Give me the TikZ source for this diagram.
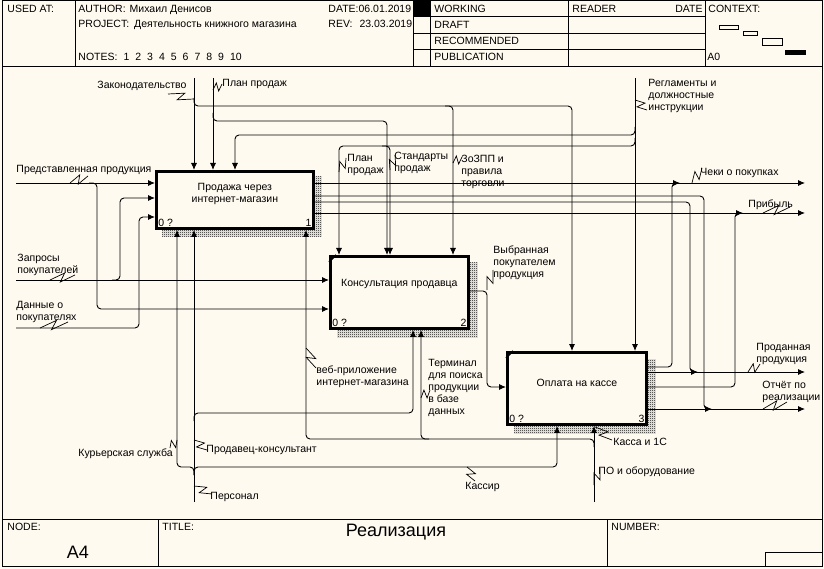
\documentclass[tikz,border=0pt]{standalone}
\usepackage{fontspec}
\setmainfont{Liberation Sans}
\usetikzlibrary{arrows.meta}
\usetikzlibrary{positioning}
\usetikzlibrary{calc}
\usetikzlibrary{patterns}
\usetikzlibrary{backgrounds}
\definecolor{paper}{RGB}{255,250,240}
\newcommand{\labfont}{\fontsize{10.5}{12}\selectfont}
\pgfdeclarepatternformonly{chk}{\pgfpointorigin}{\pgfqpoint{2pt}{2pt}}{\pgfqpoint{2pt}{2pt}}{%
  \pgfpathrectangle{\pgfpointorigin}{\pgfqpoint{1pt}{1pt}}%
  \pgfpathrectangle{\pgfqpoint{1pt}{1pt}}{\pgfqpoint{1pt}{1pt}}%
  \pgfusepath{fill}}
\tikzset{>={Latex[length=7pt,width=6pt]}}
\tikzset{fn/.style={draw, line width=2.8pt, fill=paper, anchor=north west, inner sep=0pt}}
\tikzset{ftext/.style={font=\labfont, align=center, inner sep=0pt}}
\tikzset{lab/.style={font=\labfont, anchor=north west, inner sep=0pt, align=left}}
\tikzset{ar/.style={->, rounded corners=4pt}}
\tikzset{shad/.style={pattern=chk, pattern color=black}}
\tikzset{sq/.style={line width=0.7pt}}
\newcommand{\squig}[2]{\draw[sq] (#1) -- ($(#1)!0.62!(#2)!4pt!90:(#2)$) -- ($(#1)!0.38!(#2)!4pt!-90:(#2)$) -- (#2);}

\begin{document}
\begin{tikzpicture}[x=1pt, y=-1pt, line width=0.9pt]
\useasboundingbox (0,0) rectangle (824,569);
\begin{scope}[on background layer]
\fill[paper] (0,0) rectangle (824,569);
\end{scope}

% frame and header
\draw (2,0.5) rectangle (822,566);
\node[lab] (usedat) at (7,5) {USED AT:};
\node[lab] (author) at (78,5) {AUTHOR:\hspace{4pt}Михаил Денисов};
\node[lab] (project) at (78,20) {PROJECT:\hspace{5pt}Деятельность книжного магазина};
\node[lab] (notes) at (78,53) {NOTES:\hspace{6pt}1\hspace{6pt}2\hspace{6pt}3\hspace{6pt}4\hspace{6pt}5\hspace{6pt}6\hspace{6pt}7\hspace{6pt}8\hspace{6pt}9\hspace{6pt}10};
\node[lab] (date) at (328,5) {DATE:06.01.2019};
\node[lab] (rev) at (328,20) {REV:\hspace{7pt}23.03.2019};
\fill[paper] (413,0) rectangle (430,66);
\fill (413,0) rectangle (430,16);
\draw (2,66) -- (822,66);
\draw (75,0) -- (75,66);
\draw (413,0) -- (413,66);
\draw (430,0) -- (430,66);
\draw (568,0) -- (568,66);
\draw (705,0) -- (705,66);
\foreach \y in {16,33,49} \draw (413,\y) -- (705,\y);
\node[lab] (working) at (434,5) {WORKING};
\node[lab] (draft) at (434,21) {DRAFT};
\node[lab] (recom) at (434,37) {RECOMMENDED};
\node[lab] (publ) at (434,53) {PUBLICATION};
\node[lab] (reader) at (572,5) {READER};
\node[lab, anchor=north east] (rdate) at (703,5) {DATE};
\node[lab] (context) at (708,5) {CONTEXT:};
\node[lab] (azero) at (707,53) {A0};
\draw (719,25) rectangle (738,29);
\draw (743,31) rectangle (757,35);
\draw (762,38) rectangle (782,45);
\fill (785,50) rectangle (806,55);

% footer
\draw (2,519) -- (822,519);
\draw (158,519) -- (158,566);
\draw (607,519) -- (607,566);
\draw (765,552) rectangle (822,566);
\node[lab] (nodel) at (7,523) {NODE:};
\node[lab] (titlel) at (162,523) {TITLE:};
\node[lab] (numl) at (611,523) {NUMBER:};
\node[font=\fontsize{18}{20}\selectfont, inner sep=0pt] (nodeno) at (78,552) {A4};
\node[font=\fontsize{18}{20}\selectfont, inner sep=0pt] (title) at (396,532) {Реализация};

% functions
\node[fn, minimum width=157pt, minimum height=57pt] (b1) at (155,170) {};
\node[fn, minimum width=138pt, minimum height=72pt] (b2) at (329,255) {};
\node[fn, minimum width=139pt, minimum height=72pt] (b3) at (506,351) {};
\node[ftext] (t1) at ([yshift=6pt]b1.center) {Продажа через\\интернет-магазин};
\node[ftext] (t2) at ([yshift=8pt]b2.center) {Консультация продавца};
\node[ftext] (t3) at ([yshift=6pt]b3.center) {Оплата на кассе};
\node[lab, anchor=south west] (o1) at ([shift={(3pt,3pt)}]b1.south west) {0 ?};
\node[lab, anchor=south east] (k1) at ([shift={(-3pt,3pt)}]b1.south east) {1};
\node[lab, anchor=south west] (o2) at ([shift={(3pt,3pt)}]b2.south west) {0 ?};
\node[lab, anchor=south east] (k2) at ([shift={(-3pt,3pt)}]b2.south east) {2};
\node[lab, anchor=south west] (o3) at ([shift={(3pt,3pt)}]b3.south west) {0 ?};
\node[lab, anchor=south east] (k3) at ([shift={(-3pt,3pt)}]b3.south east) {3};
\draw[line width=1.6pt] ([yshift=-7pt]b2.north west) -- ([xshift=7pt]b2.north west);
\draw[line width=1.6pt] ([yshift=-7pt]b3.north west) -- ([xshift=7pt]b3.north west);
\begin{scope}[on background layer]
\fill[shad] ([shift={(7pt,-7pt)}]b1.north west) rectangle ([shift={(7pt,-7pt)}]b1.south east);
\fill[shad] ([shift={(8pt,-8pt)}]b2.north west) rectangle ([shift={(8pt,-8pt)}]b2.south east);
\fill[shad] ([shift={(8pt,-8pt)}]b3.north west) rectangle ([shift={(8pt,-8pt)}]b3.south east);
\end{scope}

% free ends
\coordinate (zak) at (194,78);
\coordinate (pln) at (213,78);
\coordinate (reg) at (635,78);
\coordinate (prd) at (16,183);
\coordinate (zap) at (16,280);
\coordinate (dan) at (16,328);
\coordinate (pers) at (194,502);
\coordinate (po) at (594,502);
\coordinate (cheki) at (805,183);
\coordinate (prib) at (805,213);
\coordinate (prod) at (805,372);
\coordinate (otch) at (805,409);

% controls
\draw[->] (zak) -- (zak |- b1.north);
\draw[ar] (194,98) -- (194,106) -- (572,106) -- (572,106 |- b3.north);
\draw[ar] (445,106) -- (453,106) -- (453,106 |- b2.north);
\draw[->] (pln) -- (pln |- b1.north);
\draw[ar] (213,113) -- (213,121) -- (387,121) -- (387,121 |- b2.north);
\draw[->] (reg) -- (reg |- b3.north);
\draw[ar] (635,127) -- (635,135) -- (235,135) -- (235,135 |- b1.north);
\draw[ar] (635,138) -- (635,146) -- (339,146) -- (339,146 |- b2.north);
\draw[ar] (382,146) -- (390,146) -- (390,146 |- b2.north);

% inputs
\draw[->] (prd) -- (prd -| b1.west);
\draw[ar] (89,183) -- (97,183) -- (97,309) -- (97,309 -| b2.west);
\draw[->] (zap) -- (zap -| b2.west);
\draw[ar] (112,280) -- (120,280) -- (120,198) -- (120,198 -| b1.west);
\draw[ar] (dan) -- (139,328) -- (139,217) -- (139,217 -| b1.west);

% outputs
\draw[->] (cheki -| b1.east) -- (cheki);
\draw[ar] (b1.east |- 0,196) -- (704,196) -- (704,409) -- (712,409);
\draw[ar] (b1.east |- 0,202) -- (690,202) -- (690,372) -- (698,372);
\draw[->] (prib -| b1.east) -- (prib);
\draw[ar] (b2.east |- 0,291) -- (487,291) -- (487,387) -- (487,387 -| b3.west);
\draw[ar] (b3.east |- 0,367) -- (672,367) -- (672,183) -- (680,183);
\draw[->] (prod -| b3.east) -- (prod);
\draw[ar] (b3.east |- 0,387) -- (735,387) -- (735,213) -- (743,213);
\draw[->] (otch -| b3.east) -- (otch);

% mechanisms
\draw[->] (pers) -- (pers |- b1.south);
\draw[ar] (194,475) -- (194,467) -- (177,467) -- (177,467 |- b1.south);
\draw[ar] (194,475) -- (194,467) -- (557,467) -- (557,467 |- b3.south);
\draw[ar] (194,421) -- (194,413) -- (413,413) -- (413,413 |- b2.south);
\draw[->] (po) -- (po |- b3.south);
\draw[ar] (594,447) -- (594,439) -- (306,439) -- (306,439 |- b1.south);
\draw[ar] (429,439) -- (421,439) -- (421,439 |- b2.south);

% arrow labels
\node[lab] (lzak) at (97,81) {Законодательство};
\node[lab] (lpln) at (222,79) {План продаж};
\node[lab] (lreg) at (648,79) {Регламенты и\\должностные\\инструкции};
\node[lab] (lprd) at (16,165) {Представленная продукция};
\node[lab] (lzap) at (17,254) {Запросы\\покупателей};
\node[lab] (ldan) at (16,301) {Данные о\\покупателях};
\node[lab] (lpln2) at (347,154) {План\\продаж};
\node[lab] (lstd) at (394,152) {Стандарты\\продаж};
\node[lab] (lzozpp) at (461,155) {ЗоЗПП и\\правила\\торговли};
\node[lab] (lcheki) at (700,168) {Чеки о покупках};
\node[lab] (lprib) at (748,199) {Прибыль};
\node[lab] (lvybr) at (493,245) {Выбранная\\покупателем\\продукция};
\node[lab] (lprod) at (756,343) {Проданная\\продукция};
\node[lab] (lotch) at (762,381) {Отчёт по\\реализации};
\node[lab] (lweb) at (316,365) {веб-приложение\\интернет-магазина};
\node[lab] (lterm) at (428,359) {Терминал\\для поиска\\продукции\\в базе\\данных};
\node[lab] (lkur) at (78,448) {Курьерская служба};
\node[lab] (lprodav) at (206,445) {Продавец-консультант};
\node[lab] (lpers) at (210,492) {Персонал};
\node[lab] (lkass) at (465,482) {Кассир};
\node[lab] (lkassa) at (613,438) {Касса и 1С};
\node[lab] (lpo) at (598,466) {ПО и оборудование};

% squiggles
\squig{168,94}{194,99}
\squig{222,84}{213,90}
\squig{88,176}{70,183}
\squig{75,275}{50,280}
\squig{68,322}{40,328}
\squig{346,158}{339,172}
\squig{395,155}{390,170}
\squig{462,157}{453,163}
\squig{647,110}{635,100}
\squig{702,168}{692,183}
\squig{790,207}{763,213}
\squig{493,270}{487,290}
\squig{760,364}{748,372}
\squig{787,402}{763,409}
\squig{316,368}{306,348}
\squig{430,390}{421,398}
\squig{170,448}{177,440}
\squig{207,450}{194,440}
\squig{212,494}{194,486}
\squig{475,481}{467,467}
\squig{612,440}{595,427}
\squig{600,468}{594,485}
\end{tikzpicture}
\end{document}
